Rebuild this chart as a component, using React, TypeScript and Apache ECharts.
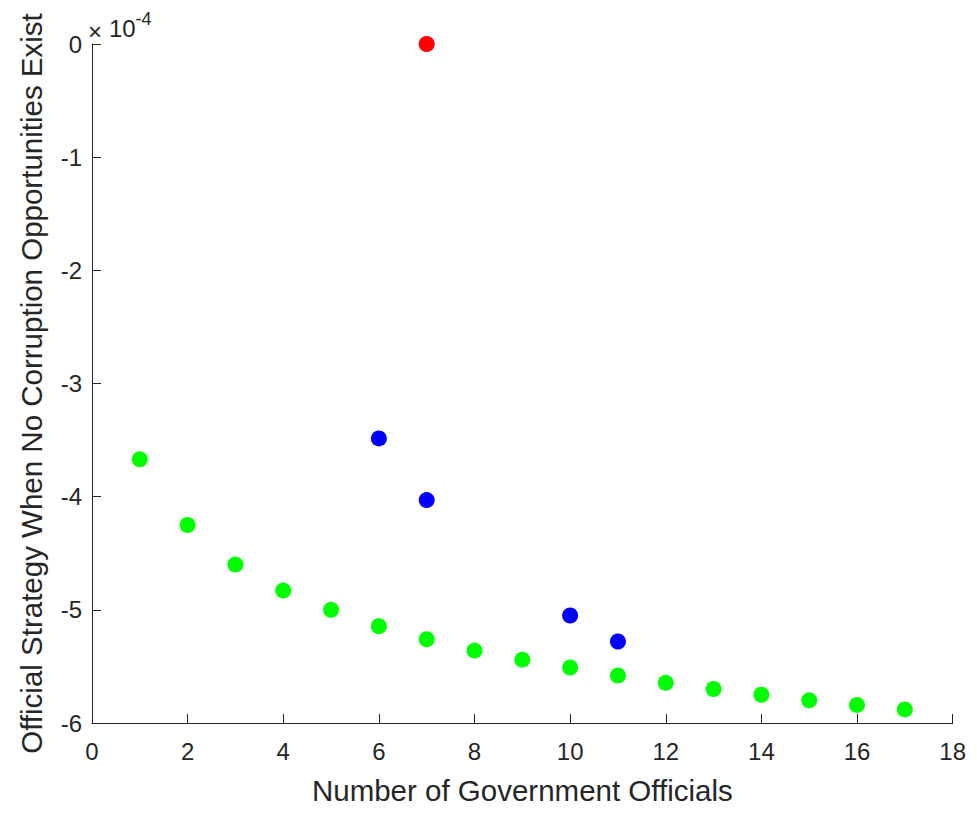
import React, { useEffect, useRef } from "react";
import * as echarts from "echarts";

// values in units of 1e-4
const greenX = [1, 2, 3, 4, 5, 6, 7, 8, 9, 10, 11, 12, 13, 14, 15, 16, 17];
const greenY = [-3.67, -4.25, -4.6, -4.83, -5.0, -5.145, -5.26, -5.36, -5.44, -5.51, -5.58, -5.645, -5.7, -5.75, -5.8, -5.84, -5.88];
const blueX = [6, 7, 10, 11];
const blueY = [-3.485, -4.03, -5.05, -5.28];
const redX = [7];
const redY = [0];
const xName = "Number of Government Officials";
const yName = "Official Strategy When No Corruption Opportunities Exist";

const TXT = "#262626";
const FONT = "'Liberation Sans', Arial, Helvetica, sans-serif";

function pairs(xs: number[], ys: number[]) {
  return xs.map((x, i) => [x, ys[i]]);
}

export default function App() {
  const ref = useRef<HTMLDivElement>(null);
  useEffect(() => {
    if (!ref.current) return;
    const chart = echarts.init(ref.current, null, { renderer: "svg" });
    chart.setOption({
      animation: false,
      backgroundColor: "#ffffff",
      textStyle: { fontFamily: FONT },
      grid: { left: 80, right: 14, top: 36, bottom: 79, containLabel: false },
      xAxis: {
        type: "value",
        min: 0,
        max: 18,
        interval: 2,
        name: xName,
        nameLocation: "middle",
        nameGap: 52,
        nameTextStyle: { fontSize: 29.5, color: TXT, fontFamily: FONT },
        axisLine: { show: true, onZero: false, lineStyle: { color: "#262626", width: 1 } },
        axisTick: { show: true, inside: true, length: 9, lineStyle: { color: "#262626" } },
        axisLabel: { fontSize: 24, color: TXT, margin: 16, fontFamily: FONT },
        splitLine: { show: false },
      },
      yAxis: {
        type: "value",
        min: -6,
        max: 0,
        interval: 1,
        name: yName,
        nameLocation: "middle",
        nameGap: 46,
        nameRotate: 90,
        nameTextStyle: { fontSize: 29.5, color: TXT, fontFamily: FONT },
        axisLine: { show: true, onZero: false, lineStyle: { color: "#262626", width: 1 } },
        axisTick: { show: true, inside: true, length: 9, lineStyle: { color: "#262626" } },
        axisLabel: { fontSize: 24, color: TXT, margin: 10, fontFamily: FONT },
        splitLine: { show: false },
      },
      graphic: [
        {
          type: "text",
          left: 80,
          top: 11,
          style: { text: "×", fontSize: 24, fill: TXT, fontFamily: FONT },
        },
        {
          type: "text",
          left: 101,
          top: 8.4,
          style: { text: "10", fontSize: 24, fill: TXT, fontFamily: FONT },
        },
        {
          type: "text",
          left: 127.5,
          top: 1.8,
          style: { text: "-4", fontSize: 18, fill: TXT, fontFamily: FONT },
        },
      ],
      series: [
        {
          type: "scatter",
          data: pairs(greenX, greenY),
          symbolSize: 16,
          itemStyle: { color: "#00ff00", opacity: 1 },
        },
        {
          type: "scatter",
          data: pairs(blueX, blueY),
          symbolSize: 16,
          itemStyle: { color: "#0000ff", opacity: 1 },
        },
        {
          type: "scatter",
          data: pairs(redX, redY),
          symbolSize: 16,
          itemStyle: { color: "#ff0000", opacity: 1 },
        },
      ],
    });
    return () => chart.dispose();
  }, []);
  return <div ref={ref} style={{ width: 961, height: 802 }} />;
}
